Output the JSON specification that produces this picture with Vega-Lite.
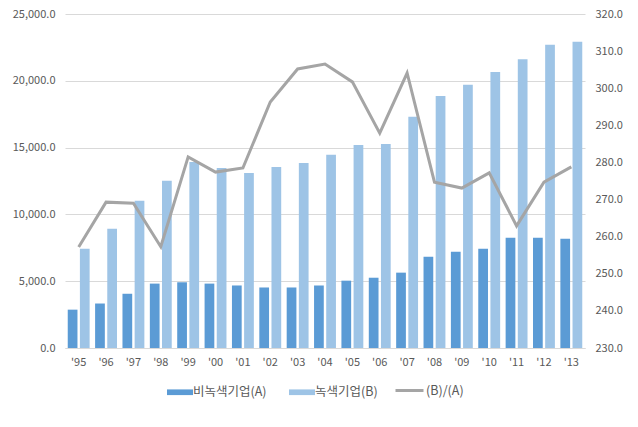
{
  "$schema": "https://vega.github.io/schema/vega-lite/v6.json",
  "width": 520,
  "height": 334,
  "padding": {"left": 65, "top": 14, "right": 53, "bottom": 79},
  "autosize": {"type": "none"},
  "background": "white",
  "config": {
    "font": "Noto Sans CJK KR",
    "view": {"stroke": null},
    "axis": {"labelColor": "#595959", "labelFontSize": 11, "titleColor": "#595959", "labelFont": "Noto Sans CJK KR"},
    "legend": {"labelColor": "#595959", "labelFontSize": 12.5, "labelFont": "Noto Sans CJK KR"}
  },
  "datasets": {
    "bars": [
      {"year": "'95", "series": "비녹색기업(A)", "value": 2870},
      {"year": "'96", "series": "비녹색기업(A)", "value": 3330},
      {"year": "'97", "series": "비녹색기업(A)", "value": 4060},
      {"year": "'98", "series": "비녹색기업(A)", "value": 4820},
      {"year": "'99", "series": "비녹색기업(A)", "value": 4920},
      {"year": "'00", "series": "비녹색기업(A)", "value": 4820},
      {"year": "'01", "series": "비녹색기업(A)", "value": 4680},
      {"year": "'02", "series": "비녹색기업(A)", "value": 4530},
      {"year": "'03", "series": "비녹색기업(A)", "value": 4530},
      {"year": "'04", "series": "비녹색기업(A)", "value": 4680},
      {"year": "'05", "series": "비녹색기업(A)", "value": 5040},
      {"year": "'06", "series": "비녹색기업(A)", "value": 5260},
      {"year": "'07", "series": "비녹색기업(A)", "value": 5640},
      {"year": "'08", "series": "비녹색기업(A)", "value": 6830},
      {"year": "'09", "series": "비녹색기업(A)", "value": 7200},
      {"year": "'10", "series": "비녹색기업(A)", "value": 7430},
      {"year": "'11", "series": "비녹색기업(A)", "value": 8250},
      {"year": "'12", "series": "비녹색기업(A)", "value": 8250},
      {"year": "'13", "series": "비녹색기업(A)", "value": 8170},
      {"year": "'95", "series": "녹색기업(B)", "value": 7420},
      {"year": "'96", "series": "녹색기업(B)", "value": 8920},
      {"year": "'97", "series": "녹색기업(B)", "value": 11020},
      {"year": "'98", "series": "녹색기업(B)", "value": 12520},
      {"year": "'99", "series": "녹색기업(B)", "value": 13920},
      {"year": "'00", "series": "녹색기업(B)", "value": 13470},
      {"year": "'01", "series": "녹색기업(B)", "value": 13100},
      {"year": "'02", "series": "녹색기업(B)", "value": 13550},
      {"year": "'03", "series": "녹색기업(B)", "value": 13850},
      {"year": "'04", "series": "녹색기업(B)", "value": 14470},
      {"year": "'05", "series": "녹색기업(B)", "value": 15200},
      {"year": "'06", "series": "녹색기업(B)", "value": 15270},
      {"year": "'07", "series": "녹색기업(B)", "value": 17300},
      {"year": "'08", "series": "녹색기업(B)", "value": 18860},
      {"year": "'09", "series": "녹색기업(B)", "value": 19700},
      {"year": "'10", "series": "녹색기업(B)", "value": 20660},
      {"year": "'11", "series": "녹색기업(B)", "value": 21620},
      {"year": "'12", "series": "녹색기업(B)", "value": 22700},
      {"year": "'13", "series": "녹색기업(B)", "value": 22920}
    ],
    "ratio": [
      {"year": "'95", "ratio": 257.2},
      {"year": "'96", "ratio": 269.3},
      {"year": "'97", "ratio": 269.0},
      {"year": "'98", "ratio": 257.3},
      {"year": "'99", "ratio": 281.5},
      {"year": "'00", "ratio": 277.4},
      {"year": "'01", "ratio": 278.5},
      {"year": "'02", "ratio": 296.3},
      {"year": "'03", "ratio": 305.2},
      {"year": "'04", "ratio": 306.5},
      {"year": "'05", "ratio": 301.7},
      {"year": "'06", "ratio": 287.9},
      {"year": "'07", "ratio": 304.1},
      {"year": "'08", "ratio": 274.7},
      {"year": "'09", "ratio": 273.1},
      {"year": "'10", "ratio": 277.2},
      {"year": "'11", "ratio": 262.9},
      {"year": "'12", "ratio": 274.7},
      {"year": "'13", "ratio": 278.8}
    ]
  },
  "layer": [
    {
      "data": {"name": "bars"},
      "mark": {"type": "bar"},
      "encoding": {
        "x": {
          "field": "year", "type": "nominal", "sort": null,
          "scale": {"paddingInner": 0.2, "paddingOuter": 0.1},
          "axis": {"title": null, "labelAngle": 0, "ticks": false, "domainColor": "#d9d9d9", "labelPadding": 8}
        },
        "xOffset": {"field": "series", "type": "nominal", "sort": ["비녹색기업(A)", "녹색기업(B)"], "scale": {"paddingInner": 0.2}},
        "y": {
          "field": "value", "type": "quantitative",
          "scale": {"domain": [0, 25000]},
          "axis": {"title": null, "values": [0, 5000, 10000, 15000, 20000, 25000], "format": ",.1f", "ticks": false, "domain": false, "gridColor": "#d9d9d9", "labelPadding": 10}
        },
        "fill": {
          "field": "series", "type": "nominal",
          "sort": ["비녹색기업(A)", "녹색기업(B)"],
          "scale": {"domain": ["비녹색기업(A)", "녹색기업(B)"], "range": ["#5b9bd5", "#9ec4e6"]},
          "legend": {"title": null, "orient": "none", "legendX": 106, "legendY": 369, "direction": "horizontal", "symbolType": "M-1.6,-0.35H1.6V0.35H-1.6Z", "symbolSize": 264, "columnPadding": 22, "labelOffset": 4}
        }
      }
    },
    {
      "data": {"name": "ratio"},
      "mark": {"type": "line", "strokeWidth": 3},
      "encoding": {
        "x": {"field": "year", "type": "nominal", "sort": null},
        "y": {
          "field": "ratio", "type": "quantitative",
          "scale": {"domain": [230, 320]},
          "axis": {"title": null, "orient": "right", "values": [230, 240, 250, 260, 270, 280, 290, 300, 310, 320], "format": ".1f", "ticks": false, "domain": false, "grid": false, "labelPadding": 10}
        },
        "stroke": {
          "datum": "(B)/(A)", "type": "nominal",
          "scale": {"range": ["#a5a5a5"]},
          "legend": {"title": null, "orient": "none", "legendX": 329, "legendY": 361, "symbolType": "stroke", "symbolStrokeWidth": 3, "symbolSize": 784, "labelOffset": 1}
        }
      }
    }
  ],
  "resolve": {"scale": {"y": "independent"}}
}
